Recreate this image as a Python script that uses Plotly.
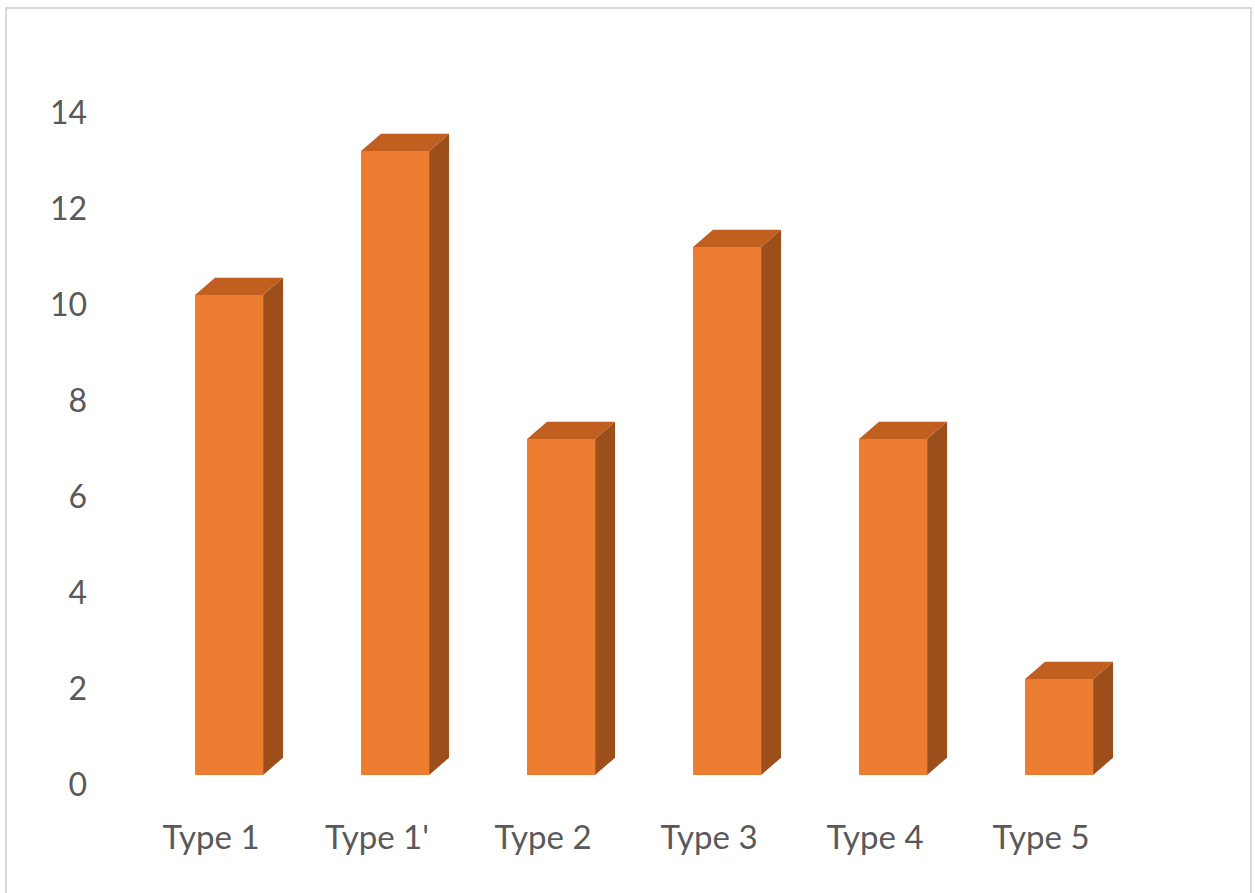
import plotly.graph_objects as go

categories = ["Type 1", "Type 1'", "Type 2", "Type 3", "Type 4", "Type 5"]
values = [10, 13, 7, 11, 7, 2]
y_ticks = [0, 2, 4, 6, 8, 10, 12, 14]

FRONT = "#ED7D31"
SIDE = "#9C4E1B"
TOP = "#C05F20"

# 3D look parameters (axis units)
bar_offset = -0.096
bar_width = 0.41
base = 0.21
dx = 0.12
dy = 0.36

# plot area pixel geometry
W, H = 1255, 893
L, R, T, B = 100, 1230, 60, 812
x0_px, step_px = 211, 166
y0_px, unit_px = 785, 48
xmin = (L - x0_px) / step_px
xmax = (R - x0_px) / step_px
ymax = (y0_px - T) / unit_px
ymin = (y0_px - B) / unit_px

xs = list(range(len(categories)))

fig = go.Figure()

# side and top faces
for i, v in zip(xs, values):
    xl = i + bar_offset
    xr = xl + bar_width
    yt = base + v
    fig.add_trace(go.Scatter(
        x=[xr, xr + dx, xr + dx, xr, xr],
        y=[base, base + dy, yt + dy, yt, base],
        fill="toself", fillcolor=SIDE, mode="lines",
        line=dict(width=0, color=SIDE), hoverinfo="skip", showlegend=False))
    fig.add_trace(go.Scatter(
        x=[xl, xl + dx, xr + dx, xr, xl],
        y=[yt, yt + dy, yt + dy, yt, yt],
        fill="toself", fillcolor=TOP, mode="lines",
        line=dict(width=0, color=TOP), hoverinfo="skip", showlegend=False))

# front faces
fig.add_trace(go.Bar(
    x=xs, y=values, base=base, width=bar_width, offset=bar_offset,
    marker=dict(color=FRONT, line=dict(width=0)), showlegend=False))

fig.update_layout(
    width=W, height=H,
    margin=dict(l=L, r=W - R, t=T, b=H - B),
    paper_bgcolor="white", plot_bgcolor="white",
    font=dict(family="Lato, 'Open Sans', sans-serif", size=30, color="#595959"),
    xaxis=dict(range=[xmin, xmax], tickmode="array", tickvals=xs,
               ticktext=categories, showgrid=False, zeroline=False,
               showline=False, ticks="", ticklabelstandoff=3,
               tickfont=dict(size=33, color="#595959")),
    yaxis=dict(range=[ymin, ymax], tickmode="array", tickvals=y_ticks,
               showgrid=False, zeroline=False, showline=False, ticks="",
               ticklabelstandoff=12,
               tickfont=dict(size=32, color="#595959")),
    bargap=0,
    shapes=[dict(type="rect", xref="paper", yref="paper",
                 x0=(6 - L) / (R - L), x1=(1251 - L) / (R - L),
                 y0=(B - 900) / (B - T), y1=(B - 8) / (B - T),
                 line=dict(color="#D9D9D9", width=2), fillcolor="rgba(0,0,0,0)",
                 layer="below")],
)

fig.write_html("out.html")
